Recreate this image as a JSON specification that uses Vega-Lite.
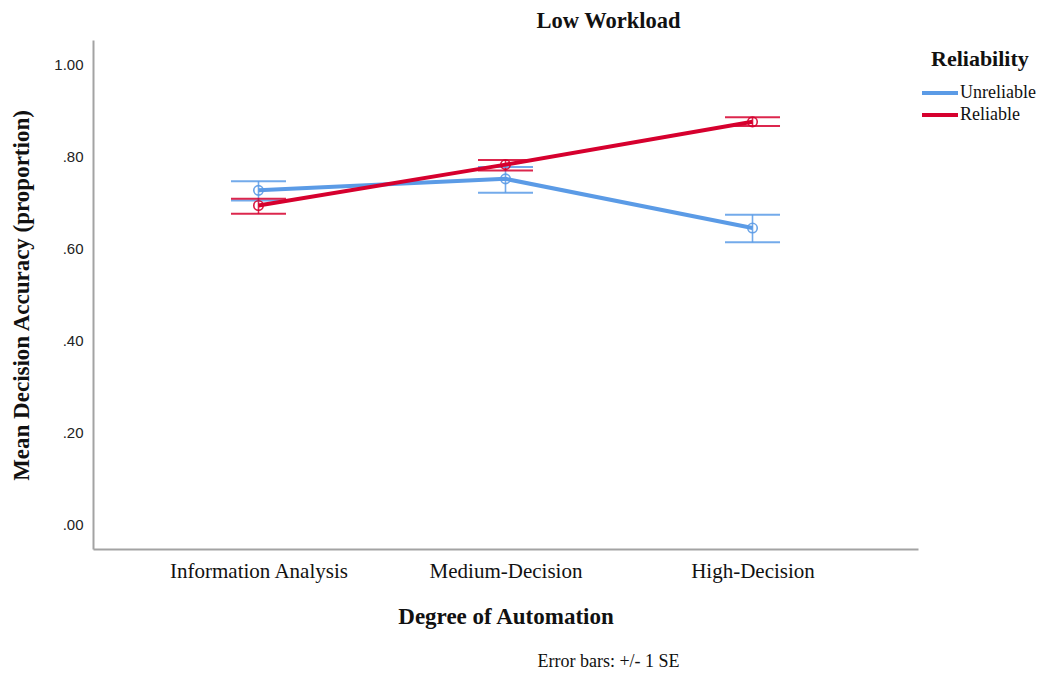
{
  "$schema": "https://vega.github.io/schema/vega-lite/v6.json",
  "width": 825,
  "height": 509,
  "autosize": {"type": "none"},
  "padding": {"left": 93, "top": 40, "right": 126, "bottom": 124},
  "background": "white",
  "title": {
    "text": "Low Workload",
    "dx": 103,
    "offset": 8,
    "font": "Liberation Serif",
    "fontSize": 22.5,
    "fontWeight": "bold",
    "color": "#111111"
  },
  "config": {
    "view": {"stroke": null},
    "axis": {"grid": false, "ticks": false, "tickSize": 0}
  },
  "data": {
    "values": [
      {"automation": "Information Analysis", "reliability": "Unreliable", "mean": 0.727, "lo": 0.705, "hi": 0.747},
      {"automation": "Medium-Decision", "reliability": "Unreliable", "mean": 0.752, "lo": 0.722, "hi": 0.778},
      {"automation": "High-Decision", "reliability": "Unreliable", "mean": 0.645, "lo": 0.614, "hi": 0.674},
      {"automation": "Information Analysis", "reliability": "Reliable", "mean": 0.694, "lo": 0.676, "hi": 0.709},
      {"automation": "Medium-Decision", "reliability": "Reliable", "mean": 0.783, "lo": 0.770, "hi": 0.793},
      {"automation": "High-Decision", "reliability": "Reliable", "mean": 0.876, "lo": 0.867, "hi": 0.886}
    ]
  },
  "layer": [
    {
      "encoding": {
        "x": {
          "field": "automation",
          "type": "nominal",
          "sort": ["Information Analysis", "Medium-Decision", "High-Decision"],
          "scale": {"type": "point", "padding": 0.67},
          "axis": {
            "title": "Degree of Automation",
            "labelAngle": 0,
            "labelFont": "Liberation Serif",
            "labelFontSize": 21,
            "labelColor": "#111111",
            "labelPadding": 11,
            "domainColor": "#a3a3a3",
            "domainWidth": 2,
            "titleFont": "Liberation Serif",
            "titleFontSize": 23,
            "titleFontWeight": "bold",
            "titleColor": "#111111",
            "titleBaseline": "alphabetic",
            "titleY": 74
          }
        },
        "color": {
          "field": "reliability",
          "type": "nominal",
          "scale": {"domain": ["Unreliable", "Reliable"], "range": ["#5b9be6", "#d6002e"]},
          "legend": {
            "title": "Reliability",
            "orient": "none",
            "legendX": 838,
            "legendY": 9,
            "padding": 0,
            "titleAnchor": "start",
            "titleFont": "Liberation Serif",
            "titleFontSize": 22,
            "titleFontWeight": "bold",
            "titleColor": "#111111",
            "titlePadding": 13,
            "labelFont": "Liberation Serif",
            "labelFontSize": 18,
            "labelColor": "#111111",
            "labelOffset": 11,
            "rowPadding": 4,
            "symbolType": "M-3,0H3",
            "symbolSize": 144,
            "symbolStrokeWidth": 4,
            "encode": {
              "symbols": {
                "update": {
                  "stroke": {"scale": "color", "field": "value"},
                  "fill": {"value": "transparent"},
                  "strokeWidth": {"value": 4},
                  "opacity": {"value": 1}
                }
              }
            }
          }
        }
      },
      "layer": [
        {
          "mark": {"type": "rule", "strokeWidth": 1.6, "opacity": 0.85},
          "encoding": {
            "y": {"field": "lo", "type": "quantitative"},
            "y2": {"field": "hi"}
          }
        },
        {
          "mark": {"type": "tick", "orient": "horizontal", "size": 55, "thickness": 2, "opacity": 0.85},
          "encoding": {"y": {"field": "lo", "type": "quantitative"}}
        },
        {
          "mark": {"type": "tick", "orient": "horizontal", "size": 55, "thickness": 2, "opacity": 0.85},
          "encoding": {"y": {"field": "hi", "type": "quantitative"}}
        },
        {
          "mark": {"type": "line", "strokeWidth": 4},
          "encoding": {
            "y": {
              "field": "mean",
              "type": "quantitative",
              "scale": {"domain": [-0.053, 1.054], "nice": false, "zero": false},
              "axis": {
                "title": "Mean Decision Accuracy (proportion)",
                "values": [0, 0.2, 0.4, 0.6, 0.8, 1],
                "labelExpr": "datum.value >= 1 ? format(datum.value, '.2f') : slice(format(datum.value, '.2f'), 1)",
                "labelFont": "Liberation Sans",
                "labelFontSize": 15,
                "labelColor": "#222222",
                "labelPadding": 10,
                "domainColor": "#a3a3a3",
                "domainWidth": 2,
                "titleFont": "Liberation Serif",
                "titleFontSize": 23,
                "titleFontWeight": "bold",
                "titleColor": "#111111",
                "titleAngle": 270,
                "titleAlign": "center",
                "titleBaseline": "middle",
                "titleX": -72,
                "titleY": 255
              }
            }
          }
        },
        {
          "mark": {"type": "point", "filled": false, "size": 90, "strokeWidth": 1.6, "opacity": 0.9},
          "encoding": {"y": {"field": "mean", "type": "quantitative"}}
        }
      ]
    },
    {
      "mark": {"type": "point", "opacity": 0},
      "encoding": {
        "x": {
          "datum": "note",
          "type": "nominal",
          "axis": {
            "orient": "bottom",
            "title": "Error bars: +/- 1 SE",
            "labels": false,
            "domain": false,
            "titleFont": "Liberation Serif",
            "titleFontSize": 18,
            "titleFontWeight": "normal",
            "titleColor": "#111111",
            "titleBaseline": "alphabetic",
            "titleX": 515,
            "titleY": 117
          }
        }
      }
    }
  ],
  "resolve": {"scale": {"x": "independent"}}
}
